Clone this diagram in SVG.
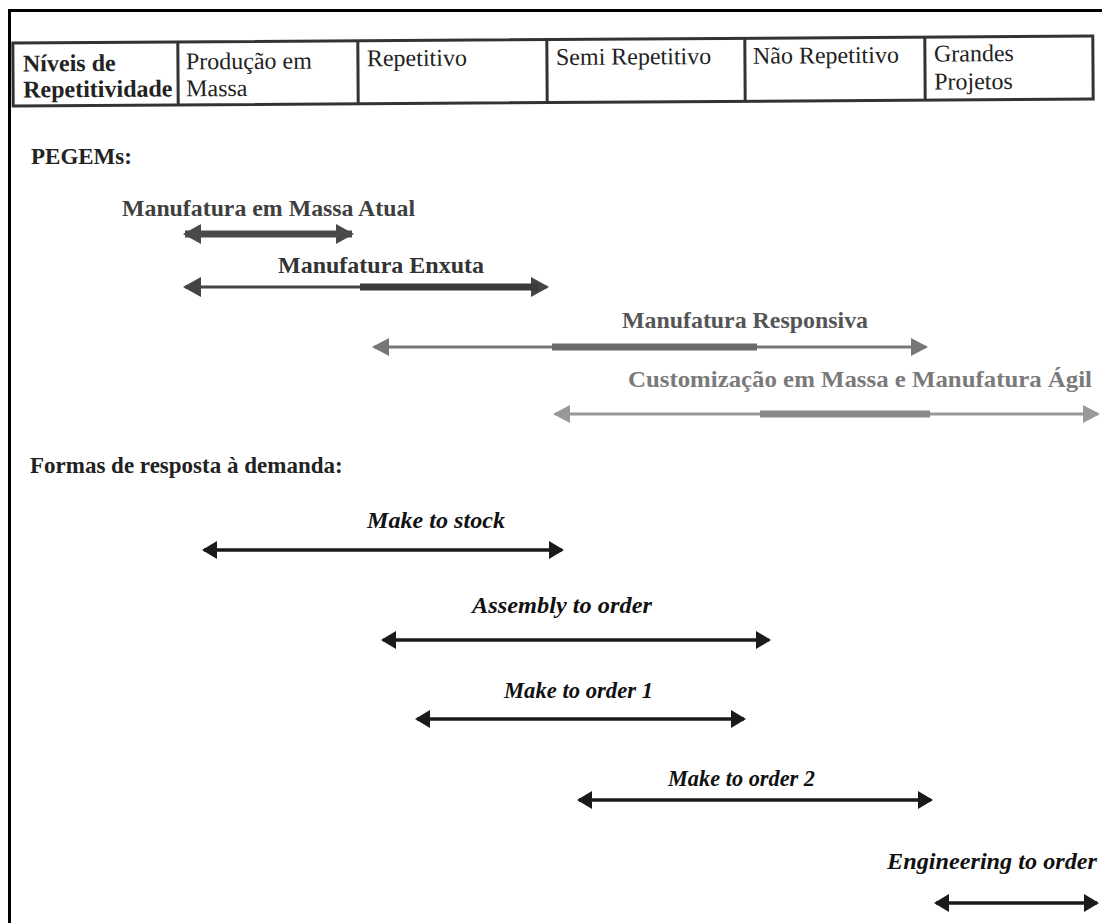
<svg xmlns="http://www.w3.org/2000/svg" width="1102" height="923" viewBox="0 0 1102 923">
  <style>
    .serif { font-family: "Liberation Serif", "Times New Roman", serif; }
    .cell { font-size: 24px; fill: #222; }
    .cellb { font-size: 24px; fill: #222; font-weight: bold; }
    .head { font-size: 23px; font-weight: bold; fill: #222; }
    .peg { font-size: 24px; font-weight: bold; }
    .dem { font-size: 24px; font-style: italic; font-weight: bold; fill: #111; }
    .frame { fill: none; stroke: #000; stroke-width: 3; }
    .grid { fill: none; stroke: #333; stroke-width: 3; }
    .thin { fill: none; stroke-width: 3; }
    .thick { fill: none; stroke-width: 7; }
    .solid { fill: none; stroke: #1a1a1a; stroke-width: 3.5; }
  </style>
  <defs>
    <marker id="hd-k" viewBox="0 0 15 18" refX="13" refY="9" markerWidth="15" markerHeight="18" markerUnits="userSpaceOnUse" orient="auto-start-reverse">
      <path d="M0 0 L15 9 L0 18 Z" fill="#1a1a1a"/>
    </marker>
    <marker id="hd-1" viewBox="0 0 18 20" refX="16" refY="10" markerWidth="18" markerHeight="20" markerUnits="userSpaceOnUse" orient="auto-start-reverse">
      <path d="M0 0 L18 10 L0 20 Z" fill="#4a4a4a"/>
    </marker>
    <marker id="hd-2" viewBox="0 0 18 20" refX="16" refY="10" markerWidth="18" markerHeight="20" markerUnits="userSpaceOnUse" orient="auto-start-reverse">
      <path d="M0 0 L18 10 L0 20 Z" fill="#444"/>
    </marker>
    <marker id="hd-3" viewBox="0 0 17 18" refX="15" refY="9" markerWidth="17" markerHeight="18" markerUnits="userSpaceOnUse" orient="auto-start-reverse">
      <path d="M0 0 L17 9 L0 18 Z" fill="#777"/>
    </marker>
    <marker id="hd-4" viewBox="0 0 17 18" refX="15" refY="9" markerWidth="17" markerHeight="18" markerUnits="userSpaceOnUse" orient="auto-start-reverse">
      <path d="M0 0 L17 9 L0 18 Z" fill="#999"/>
    </marker>
  </defs>

  <rect width="1102" height="923" fill="#fff"/>

  <!-- page frame -->
  <path class="frame" d="M9.5 923 V10.5 H1102"/>

  <!-- repetitiveness table -->
  <g id="table" class="serif" transform="rotate(-0.37 553 71)">
    <rect class="grid" x="13" y="39.5" width="1080" height="63"/>
    <path class="grid" d="M178 39.5 V102.5 M358 39.5 V102.5 M547 39.5 V102.5 M745 39.5 V102.5 M925 39.5 V102.5"/>
    <text class="cellb" x="23" y="68">Níveis de</text>
    <text class="cellb" x="23" y="94">Repetitividade</text>
    <text class="cell" x="186" y="67">Produção em</text>
    <text class="cell" x="186" y="94">Massa</text>
    <text class="cell" x="367" y="65">Repetitivo</text>
    <text class="cell" x="556" y="65">Semi Repetitivo</text>
    <text class="cell" x="753" y="65">Não Repetitivo</text>
    <text class="cell" x="934" y="64">Grandes</text>
    <text class="cell" x="934" y="92">Projetos</text>
  </g>

  <!-- section headings -->
  <g id="headings" class="serif">
    <text class="head" x="31" y="164">PEGEMs:</text>
    <text class="head" x="30" y="473">Formas de resposta à demanda:</text>
  </g>

  <!-- PEGEM labels -->
  <g id="pegem-mma" class="serif">
    <text class="peg" x="122" y="216" fill="#3f3f3f" textLength="293" lengthAdjust="spacingAndGlyphs">Manufatura em Massa Atual</text>
  </g>
  <g id="pegem-me" class="serif">
    <text class="peg" x="278" y="273" fill="#333" textLength="206" lengthAdjust="spacingAndGlyphs">Manufatura Enxuta</text>
  </g>
  <g id="pegem-mr" class="serif">
    <text class="peg" x="622" y="328" fill="#555" textLength="246" lengthAdjust="spacingAndGlyphs">Manufatura Responsiva</text>
  </g>
  <g id="pegem-cm" class="serif">
    <text class="peg" x="628" y="387" fill="#7a7a7a" textLength="464" lengthAdjust="spacingAndGlyphs">Customização em Massa e Manufatura Ágil</text>
  </g>

  <!-- demand response labels -->
  <g id="mts" class="serif"><text class="dem" x="367" y="528" textLength="138" lengthAdjust="spacingAndGlyphs">Make to stock</text></g>
  <g id="ato" class="serif"><text class="dem" x="472" y="613" textLength="180" lengthAdjust="spacingAndGlyphs">Assembly to order</text></g>
  <g id="mto1" class="serif"><text class="dem" x="504" y="698" textLength="149" lengthAdjust="spacingAndGlyphs">Make to order 1</text></g>
  <g id="mto2" class="serif"><text class="dem" x="668" y="786" textLength="147" lengthAdjust="spacingAndGlyphs">Make to order 2</text></g>
  <g id="eto" class="serif"><text class="dem" x="887" y="869" textLength="210" lengthAdjust="spacingAndGlyphs">Engineering to order</text></g>

  <!-- range connectors -->
  <g id="connectors">
    <!-- PEGEM ranges -->
    <line class="thick" x1="185" y1="234" x2="352" y2="234" stroke="#4a4a4a" marker-start="url(#hd-1)" marker-end="url(#hd-1)"/>
    <line class="thin" x1="185" y1="287" x2="547" y2="287" stroke="#444" marker-start="url(#hd-2)" marker-end="url(#hd-2)"/>
    <line class="thick" x1="360" y1="287" x2="538" y2="287" stroke="#3a3a3a"/>
    <line class="thin" x1="374" y1="347" x2="926" y2="347" stroke="#777" marker-start="url(#hd-3)" marker-end="url(#hd-3)"/>
    <line class="thick" x1="552" y1="347" x2="757" y2="347" stroke="#6a6a6a"/>
    <line class="thin" x1="555" y1="414" x2="1098" y2="414" stroke="#999" marker-start="url(#hd-4)" marker-end="url(#hd-4)"/>
    <line class="thick" x1="760" y1="414" x2="930" y2="414" stroke="#8a8a8a"/>
    <!-- demand response ranges -->
    <line class="solid" x1="204" y1="550" x2="562" y2="550" marker-start="url(#hd-k)" marker-end="url(#hd-k)"/>
    <line class="solid" x1="383" y1="640" x2="769" y2="640" marker-start="url(#hd-k)" marker-end="url(#hd-k)"/>
    <line class="solid" x1="417" y1="719" x2="744" y2="719" marker-start="url(#hd-k)" marker-end="url(#hd-k)"/>
    <line class="solid" x1="579" y1="800" x2="931" y2="800" marker-start="url(#hd-k)" marker-end="url(#hd-k)"/>
    <line class="solid" x1="936" y1="903" x2="1097" y2="903" marker-start="url(#hd-k)" marker-end="url(#hd-k)"/>
  </g>
</svg>
